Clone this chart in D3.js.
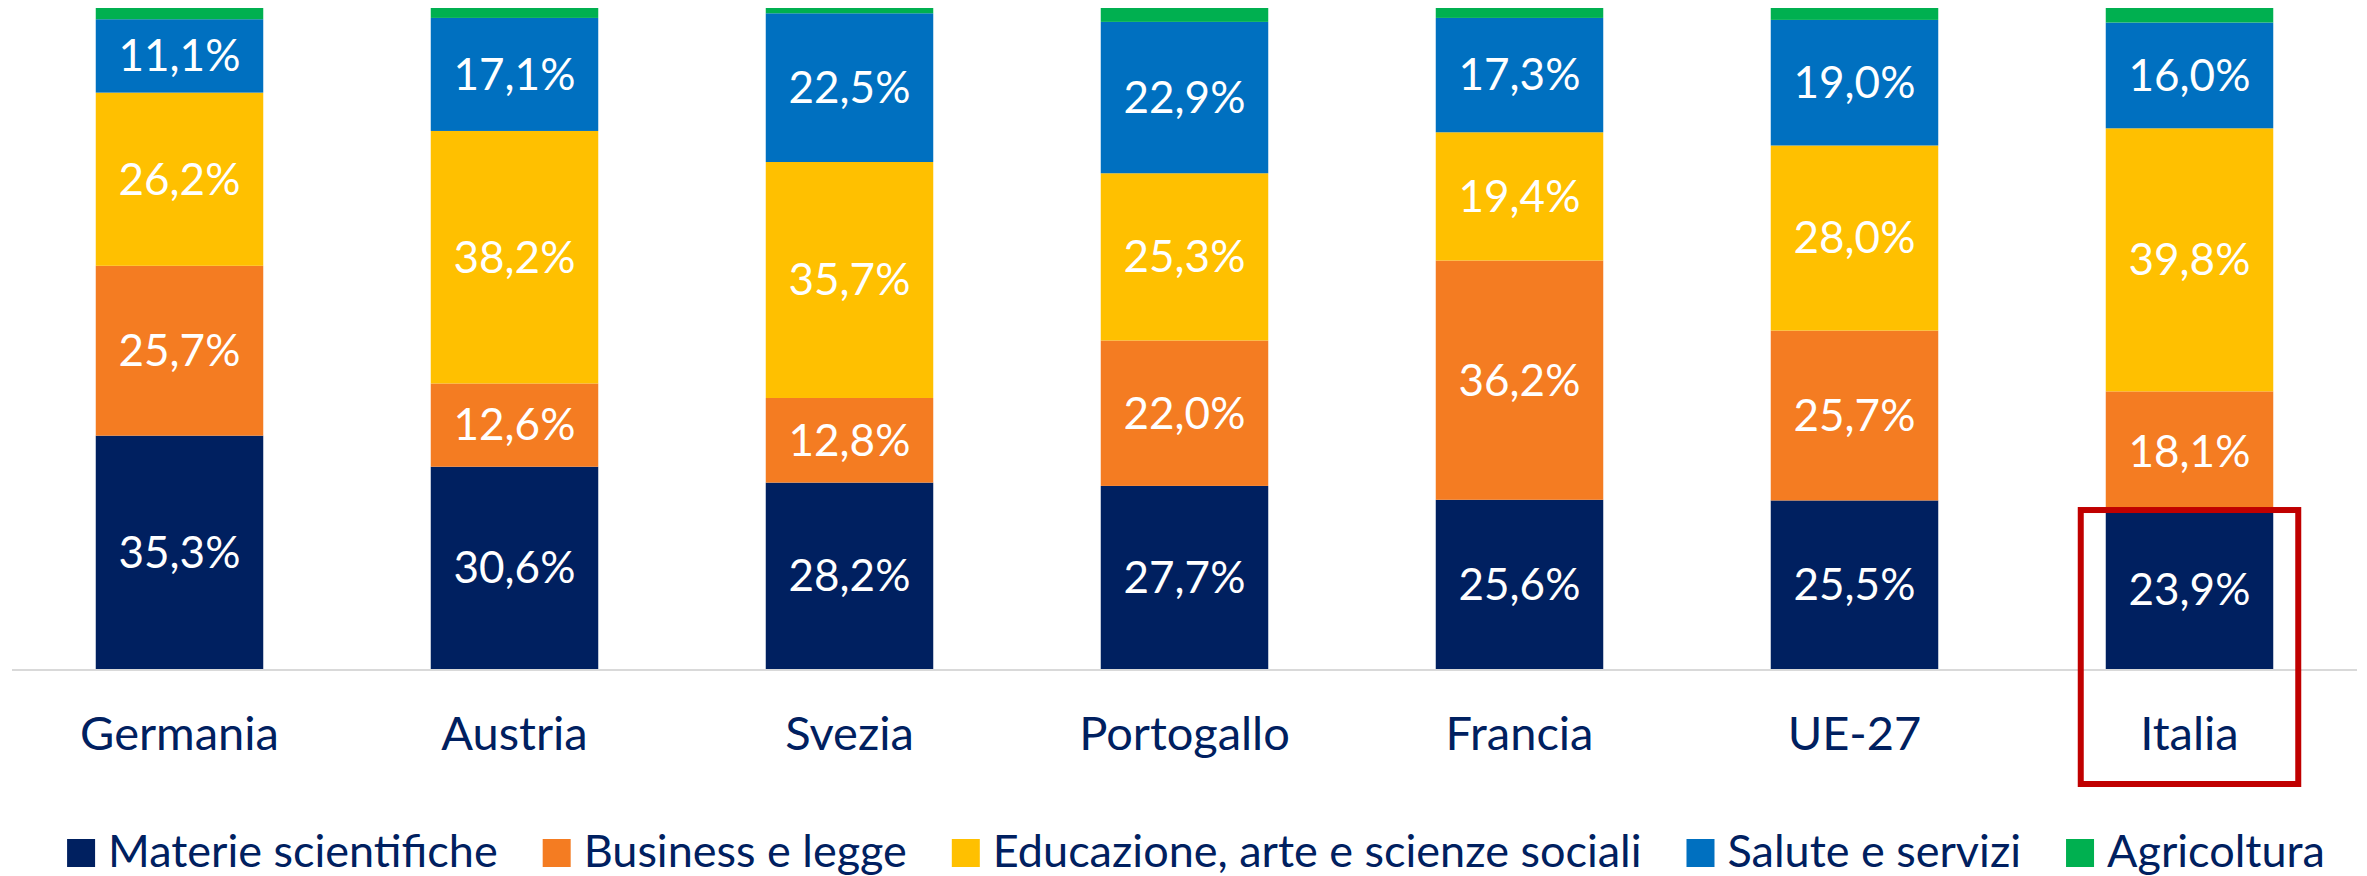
<!DOCTYPE html>
<html>
<head>
<meta charset="utf-8">
<script src="https://cdn.jsdelivr.net/npm/d3@7"></script>
<style>
  html, body { margin: 0; padding: 0; background: #fff; }
  svg { display: block; font-family: "Source Sans Pro", Lato, sans-serif; }
</style>
</head>
<body>
<svg id="chart" width="2367" height="876"></svg>
<script>
// Categories (countries) and series values, in %
const countries = ["Germania", "Austria", "Svezia", "Portogallo", "Francia", "UE-27", "Italia"];
const seriesNames = ["Materie scientifiche", "Business e legge", "Educazione, arte e scienze sociali", "Salute e servizi", "Agricoltura"];
const materie = [35.3, 30.6, 28.2, 27.7, 25.6, 25.5, 23.9];
const business = [25.7, 12.6, 12.8, 22.0, 36.2, 25.7, 18.1];
const educazione = [26.2, 38.2, 35.7, 25.3, 19.4, 28.0, 39.8];
const salute = [11.1, 17.1, 22.5, 22.9, 17.3, 19.0, 16.0];
const agricoltura = [1.7, 1.5, 0.8, 2.1, 1.5, 1.8, 2.2];
const colors = ["#002060", "#F47C22", "#FFC000", "#0070C0", "#00B050"];
const highlighted = "Italia";

const svg = d3.select("#chart");
const NAVY = "#002060";

// build rows for the stack
const rows = countries.map((c, i) => ({
  country: c,
  [seriesNames[0]]: materie[i],
  [seriesNames[1]]: business[i],
  [seriesNames[2]]: educazione[i],
  [seriesNames[3]]: salute[i],
  [seriesNames[4]]: agricoltura[i]
}));

const stacked = d3.stack().keys(seriesNames)(rows);

const x = d3.scaleBand()
  .domain(countries)
  .range([12, 2357])
  .paddingInner(0.5)
  .paddingOuter(0.25);

const y = d3.scaleLinear().domain([0, 100]).range([669, 8]);

const color = d3.scaleOrdinal().domain(seriesNames).range(colors);

const fmt = v => d3.format(".1f")(v).replace(".", ",") + "%";

// bars
const layers = svg.append("g").selectAll("g")
  .data(stacked)
  .join("g")
  .attr("fill", d => color(d.key));

layers.selectAll("rect")
  .data(d => d)
  .join("rect")
  .attr("x", d => x(d.data.country))
  .attr("width", x.bandwidth())
  .attr("y", d => y(d[1]))
  .attr("height", d => y(d[0]) - y(d[1]));

// value labels (not for agricoltura, too thin)
stacked.slice(0, 4).forEach(layer => {
  svg.append("g").selectAll("text")
    .data(layer)
    .join("text")
    .attr("x", d => x(d.data.country) + x.bandwidth() / 2)
    .attr("y", d => (y(d[0]) + y(d[1])) / 2)
    .attr("dy", "0.35em")
    .attr("text-anchor", "middle")
    .attr("fill", "#fff")
    .style("font-size", "44px")
    .text(d => fmt(d[1] - d[0]));
});

// x axis
const xAxis = svg.append("g")
  .attr("transform", `translate(0,${y(0)})`)
  .call(d3.axisBottom(x).tickSize(0).tickPadding(0));
xAxis.select(".domain").attr("stroke", "#d9d9d9").attr("stroke-width", 2).attr("d", "M12,1H2357");
xAxis.selectAll(".tick text")
  .attr("y", 81)
  .attr("dy", 0)
  .attr("fill", NAVY)
  .style("font-size", "47px")
  .style("font-family", "\"Source Sans Pro\", Lato, sans-serif");

// red highlight box around Italia
const iMat = materie[countries.indexOf(highlighted)];
svg.append("rect")
  .attr("x", x(highlighted) - 25)
  .attr("y", y(iMat) - 1)
  .attr("width", x.bandwidth() + 50)
  .attr("height", 784 - (y(iMat) - 1))
  .attr("fill", "none")
  .attr("stroke", "#C00000")
  .attr("stroke-width", 6);

// legend
const legend = svg.append("g").attr("transform", "translate(0,867)");
const items = legend.selectAll("g")
  .data(seriesNames)
  .join("g");
items.append("rect")
  .attr("y", -28)
  .attr("width", 28)
  .attr("height", 28)
  .attr("fill", d => color(d));
items.append("text")
  .attr("x", 41)
  .attr("fill", NAVY)
  .style("font-size", "45px")
  .text(d => d);

let offset = 0;
const widths = [];
items.each(function () {
  const w = 41 + d3.select(this).select("text").node().getComputedTextLength();
  widths.push(w);
});
const total = d3.sum(widths) + 45 * (widths.length - 1);
offset = 1196 - total / 2;
items.each(function (d, i) {
  d3.select(this).attr("transform", `translate(${offset},0)`);
  offset += widths[i] + 45;
});
</script>
</body>
</html>
